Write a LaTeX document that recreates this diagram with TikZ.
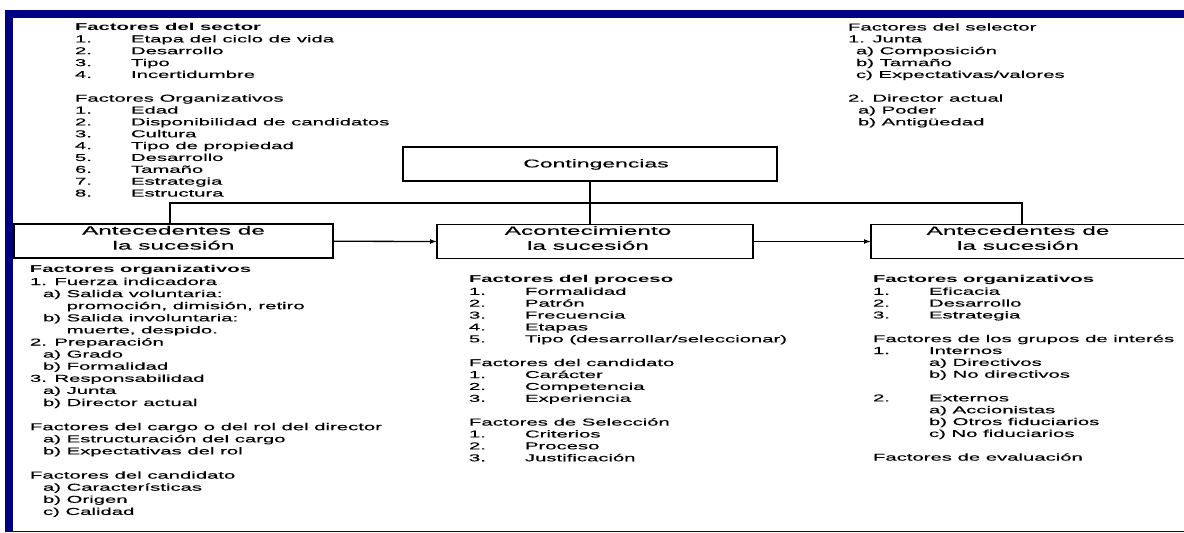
\documentclass[tikz,border=0pt]{standalone}
\usepackage{fontspec}
\setmainfont{Liberation Sans}[FakeStretch=2.03, UprightFeatures={FakeBold=0.35}]
\usetikzlibrary{arrows.meta}
\definecolor{navy}{HTML}{000080}
% numbered entry with a tab stop after the number
\newcommand\numitem[2]{\makebox[56pt][l]{#1}#2}
% indented entry
\newcommand\tabin[2]{\hspace*{#1}#2}

\begin{document}
\begin{tikzpicture}[x=1pt,y=-1pt,
  every node/.style={inner sep=0pt, outer sep=0pt},
  txt/.style={anchor=base west, font=\fontsize{10}{#1}\selectfont},
  stagebox/.style={draw, line width=1.8pt, minimum width=#1, minimum height=34pt},
  boxtxt/.style={align=center, font=\fontsize{12}{15}\selectfont},
  conn/.style={line width=1.8pt},
  arr/.style={line width=1.3pt, -{Latex[length=7pt,width=5pt]}}]

\useasboundingbox (0,0) rectangle (1184,533);

% frame
\fill[navy] (5,10) rectangle (1184,17.5);
\fill[navy] (5,10) rectangle (13,532);
\draw[navy, line width=1.5pt] (5,531.5) -- (1184,531.5);

% contingency box
\node[stagebox=374pt] (cont) at (590,164) {};
\node[font=\fontsize{11.3}{14}\selectfont] (conttxt) at (596,164.5) {Contingencias};

% stage boxes (the last one runs past the right edge)
\node[stagebox=319pt] (b1) at (173.5,241.25) {};
\node[stagebox=316pt] (b2) at (595,241.5) {};
\node[stagebox=330pt] (b3) at (1036,241.5) {};
\node[boxtxt] (b1txt) at ([yshift=3.5pt]b1.center) {Antecedentes de\\la sucesión};
\node[boxtxt] (b2txt) at ([xshift=-7pt,yshift=3.5pt]b2.center) {Acontecimiento\\la sucesión};
\node[boxtxt] (b3txt) at ([xshift=-18pt,yshift=3.5pt]b3.center) {Antecedentes de\\la sucesión};

% connectors
\coordinate (jl) at (170,203);
\coordinate (jr) at (1022,203);
\draw[conn] (cont.south) -- (cont.south |- b2.north);
\draw[conn] (jl |- b1.north) -- (jl) -- (jr) -- (jr |- b3.north);
\draw[arr] (b1.east) -- (b2.west);
\draw[arr] (b2.east) -- (b3.west);

% upper left factors
\node[txt=11.86] (lt) at (75,30.5) {\begin{tabular}[t]{@{}l@{}}
\textbf{Factores del sector}\\
\numitem{1.}{Etapa del ciclo de vida}\\
\numitem{2.}{Desarrollo}\\
\numitem{3.}{Tipo}\\
\numitem{4.}{Incertidumbre}\\
\\
Factores Organizativos\\
\numitem{1.}{Edad}\\
\numitem{2.}{Disponibilidad de candidatos}\\
\numitem{3.}{Cultura}\\
\numitem{4.}{Tipo de propiedad}\\
\numitem{5.}{Desarrollo}\\
\numitem{6.}{Tamaño}\\
\numitem{7.}{Estrategia}\\
\numitem{8.}{Estructura}
\end{tabular}};

% upper right factors
\node[txt=11.86] (rt) at (848,30.5) {\begin{tabular}[t]{@{}l@{}}
Factores del selector\\
1. Junta\\
\tabin{8pt}{a) Composición}\\
\tabin{8pt}{b) Tamaño}\\
\tabin{8pt}{c) Expectativas/valores}\\
\\
2. Director actual\\
\tabin{10pt}{a) Poder}\\
\tabin{10pt}{b) Antigüedad}
\end{tabular}};

% factors under the first stage
\node[txt=12.1] (lb) at (30,272.9) {\begin{tabular}[t]{@{}l@{}}
\textbf{Factores organizativos}\\
1. Fuerza indicadora\\
\tabin{13pt}{a) Salida voluntaria:}\\
\tabin{13pt}{\phantom{a) }promoción, dimisión, retiro}\\
\tabin{13pt}{b) Salida involuntaria:}\\
\tabin{13pt}{\phantom{b) }muerte, despido.}\\
2. Preparación\\
\tabin{13pt}{a) Grado}\\
\tabin{13pt}{b) Formalidad}\\
3. Responsabilidad\\
\tabin{13pt}{a) Junta}\\
\tabin{13pt}{b) Director actual}\\
\\
Factores del cargo o del rol del director\\
\tabin{13pt}{a) Estructuración del cargo}\\
\tabin{13pt}{b) Expectativas del rol}\\
\\
Factores del candidato\\
\tabin{13pt}{a) Características}\\
\tabin{13pt}{b) Origen}\\
\tabin{13pt}{c) Calidad}
\end{tabular}};

% factors under the second stage
\node[txt=11.89] (mb) at (469,282.9) {\begin{tabular}[t]{@{}l@{}}
\textbf{Factores del proceso}\\
\numitem{1.}{Formalidad}\\
\numitem{2.}{Patrón}\\
\numitem{3.}{Frecuencia}\\
\numitem{4.}{Etapas}\\
\numitem{5.}{Tipo (desarrollar/seleccionar)}\\
\\
Factores del candidato\\
\numitem{1.}{Carácter}\\
\numitem{2.}{Competencia}\\
\numitem{3.}{Experiencia}\\
\\
Factores de Selección\\
\numitem{1.}{Criterios}\\
\numitem{2.}{Proceso}\\
\numitem{3.}{Justificación}
\end{tabular}};

% factors under the third stage
\node[txt=11.85] (rb) at (873,282.9) {\begin{tabular}[t]{@{}l@{}}
\textbf{Factores organizativos}\\
\numitem{1.}{Eficacia}\\
\numitem{2.}{Desarrollo}\\
\numitem{3.}{Estrategia}\\
\\
Factores de los grupos de interés\\
\numitem{1.}{Internos}\\
\tabin{56pt}{a) Directivos}\\
\tabin{56pt}{b) No directivos}\\
\\
\numitem{2.}{Externos}\\
\tabin{56pt}{a) Accionistas}\\
\tabin{56pt}{b) Otros fiduciarios}\\
\tabin{56pt}{c) No fiduciarios}\\
\\
Factores de evaluación
\end{tabular}};
\end{tikzpicture}
\end{document}
